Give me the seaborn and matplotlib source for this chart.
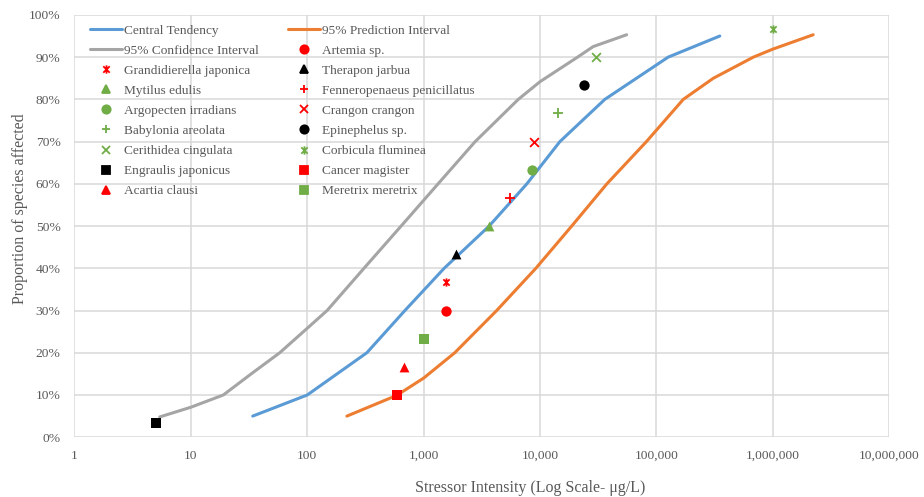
import numpy as np
import pandas as pd
import matplotlib
matplotlib.use("Agg")
import matplotlib.pyplot as plt
import seaborn as sns
from matplotlib.path import Path
from matplotlib.ticker import FuncFormatter, FixedLocator
from matplotlib.lines import Line2D

# curves (fraction affected vs concentration, ug/L)
central_pct = [0.05, 0.10, 0.20, 0.30, 0.40, 0.50, 0.60, 0.70, 0.80, 0.90, 0.95]
central_x = [34, 100, 325, 690, 1500, 3650, 7700, 14800, 36000, 126000, 350000]

ci_pct = [0.048, 0.071, 0.10, 0.15, 0.20, 0.258, 0.30, 0.40, 0.50, 0.60, 0.70, 0.80, 0.842, 0.90, 0.925, 0.953]
ci_x = [5.4, 10, 19, 33, 58, 100, 148, 307, 640, 1330, 2770, 6500, 10000, 21000, 28600, 55400]

pi_pct = [0.05, 0.099, 0.14, 0.20, 0.30, 0.40, 0.50, 0.60, 0.70, 0.80, 0.85, 0.90, 0.919, 0.953]
pi_x = [219, 587, 1000, 1850, 4240, 9200, 18700, 37500, 82000, 170000, 308000, 680000, 1000000, 2220000]

# species toxicity points
species = ["Engraulis japonicus", "Cancer magister", "Acartia clausi", "Meretrix meretrix",
           "Artemia sp.", "Grandidierella japonica", "Therapon jarbua", "Mytilus edulis",
           "Fenneropenaeus penicillatus", "Argopecten irradians", "Crangon crangon",
           "Babylonia areolata", "Epinephelus sp.", "Cerithidea cingulata", "Corbicula fluminea"]
conc = [5.0, 590, 675, 1000, 1550, 1550, 1900, 3650, 5500, 8600, 8800, 14400, 24000, 30000, 1000000]
frac = [0.033, 0.100, 0.167, 0.233, 0.300, 0.367, 0.433, 0.500, 0.567, 0.633,
        0.700, 0.767, 0.833, 0.900, 0.967]

RED, GREEN, BLACK = "#FF0000", "#70AD47", "#000000"
# excel-style "star": an x with a vertical bar
star = Path([(-1, -1), (1, 1), (-1, 1), (1, -1), (0, -1.3), (0, 1.3)],
            [Path.MOVETO, Path.LINETO, Path.MOVETO, Path.LINETO, Path.MOVETO, Path.LINETO])
style = {
    "Engraulis japonicus": (BLACK, "s", 55),
    "Cancer magister": (RED, "s", 60),
    "Acartia clausi": (RED, "^", 50),
    "Meretrix meretrix": (GREEN, "s", 55),
    "Artemia sp.": (RED, "o", 55),
    "Grandidierella japonica": (RED, star, 35),
    "Therapon jarbua": (BLACK, "^", 50),
    "Mytilus edulis": (GREEN, "^", 50),
    "Fenneropenaeus penicillatus": (RED, "+", 45),
    "Argopecten irradians": (GREEN, "o", 55),
    "Crangon crangon": (RED, "x", 40),
    "Babylonia areolata": (GREEN, "+", 45),
    "Epinephelus sp.": (BLACK, "o", 55),
    "Cerithidea cingulata": (GREEN, "x", 40),
    "Corbicula fluminea": (GREEN, star, 35),
}

sns.set_theme(style="whitegrid")
plt.rcParams["font.family"] = ["Liberation Serif", "DejaVu Serif"]

fig = plt.figure(figsize=(9.24, 4.97), dpi=100)
ax = fig.add_axes([0.0806, 0.1203, 0.8818, 0.8497])

curves = pd.DataFrame({
    "x": central_x + pi_x + ci_x,
    "y": central_pct + pi_pct + ci_pct,
    "curve": ["Central Tendency"] * len(central_x) + ["95% Prediction Interval"] * len(pi_x)
             + ["95% Confidence Interval"] * len(ci_x),
})
line_colors = {"Central Tendency": "#5B9BD5", "95% Prediction Interval": "#ED7D31",
               "95% Confidence Interval": "#A5A5A5"}
sns.lineplot(data=curves, x="x", y="y", hue="curve", palette=line_colors, sort=False,
             linewidth=2.2, ax=ax, legend=False)

pts = pd.DataFrame({"x": conc, "y": frac, "species": species})
for sp in species:
    c, m, s = style[sp]
    sub = pts[pts["species"] == sp]
    sns.scatterplot(data=sub, x="x", y="y", color=c, marker=m, s=s,
                    linewidth=1.3 if m in ("x", "+", star) else 0,
                    edgecolor=c, ax=ax, legend=False, zorder=5)

ax.set_xscale("log")
ax.set_xlim(1, 1e7)
ax.set_ylim(0, 1)
ax.xaxis.set_major_locator(FixedLocator([10 ** i for i in range(8)]))
ax.xaxis.set_minor_locator(FixedLocator([]))
ax.xaxis.set_major_formatter(FuncFormatter(lambda v, p: f"{v:,.0f}"))
ax.set_yticks(np.arange(0, 1.01, 0.1))
ax.yaxis.set_major_formatter(FuncFormatter(lambda v, p: f"{v:.0%}"))
ax.grid(True, color="#D9D9D9", linewidth=1.1)
for s in ax.spines.values():
    s.set_visible(False)
ax.tick_params(axis="both", length=0, labelsize=9.7, labelcolor="#595959")
ax.tick_params(axis="x", pad=9)
ax.tick_params(axis="y", pad=10)
ax.set_xlabel("Stressor Intensity (Log Scale- μg/L)", fontsize=11.5, color="#595959", labelpad=13)
ax.xaxis.label.set_x(0.559)
ax.set_ylabel("Proportion of species affected", fontsize=11.5, color="#595959", labelpad=1)
ax.yaxis.label.set_y(0.54)

# legend, row order as in the original (2 columns)
legend_order = ["Central Tendency", "95% Prediction Interval", "95% Confidence Interval", "Artemia sp.",
                "Grandidierella japonica", "Therapon jarbua", "Mytilus edulis", "Fenneropenaeus penicillatus",
                "Argopecten irradians", "Crangon crangon", "Babylonia areolata", "Epinephelus sp.",
                "Cerithidea cingulata", "Corbicula fluminea", "Engraulis japonicus", "Cancer magister",
                "Acartia clausi", "Meretrix meretrix"]
handles = {}
for k, c in line_colors.items():
    handles[k] = Line2D([], [], color=c, linewidth=2.2)
for sp in species:
    c, m, s = style[sp]
    handles[sp] = Line2D([], [], color=c, marker=m, linestyle="none", markersize=6,
                         markeredgewidth=1.3, markeredgecolor=c)
labels = legend_order[0::2] + legend_order[1::2]
leg = ax.legend([handles[l] for l in labels], labels, ncol=2, loc="upper left",
                bbox_to_anchor=(0.012, 0.99), frameon=False, fontsize=9.6,
                handlelength=2.4, handletextpad=0.15, columnspacing=2.25,
                labelspacing=0.58, borderaxespad=0.0)
for t in leg.get_texts():
    t.set_color("#595959")

fig.savefig("out.png", dpi=100)
